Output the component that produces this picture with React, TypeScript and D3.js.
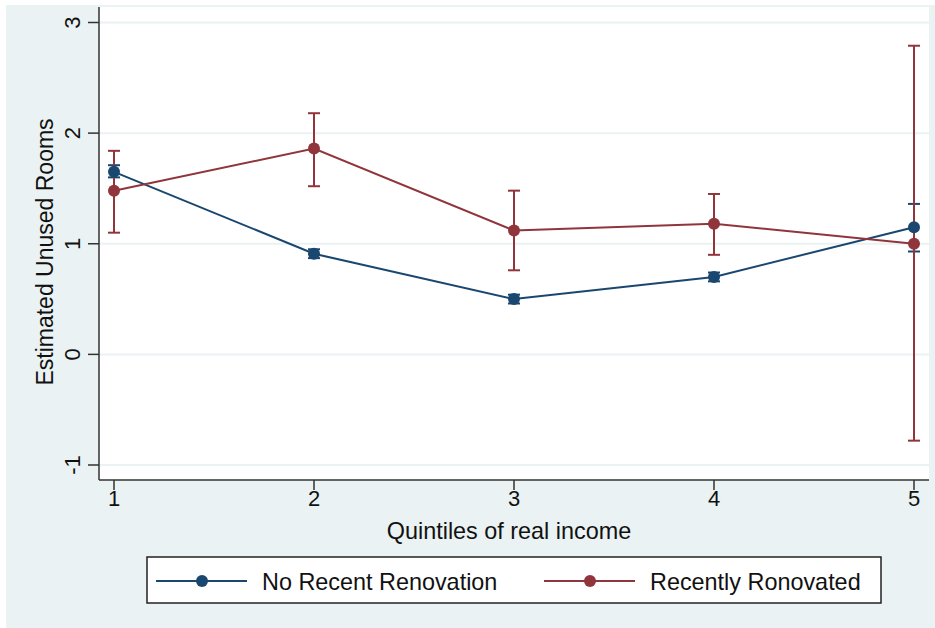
import React from "react";
import * as d3 from "d3";

const quintiles = [1, 2, 3, 4, 5];
const noRenoMean = [1.65, 0.91, 0.5, 0.7, 1.15];
const noRenoLow = [1.6, 0.87, 0.46, 0.66, 0.93];
const noRenoHigh = [1.71, 0.95, 0.54, 0.74, 1.36];
const renoMean = [1.48, 1.86, 1.12, 1.18, 1.0];
const renoLow = [1.1, 1.52, 0.76, 0.9, -0.78];
const renoHigh = [1.84, 2.18, 1.48, 1.45, 2.79];
const yTicks = [-1, 0, 1, 2, 3];
const xTicks = [1, 2, 3, 4, 5];
const legendLabels = ["No Recent Renovation", "Recently Ronovated"];

const NAVY = "#1a476f";
const MAROON = "#90353b";
const BG = "#eaf2f3";
const FONT = "'Liberation Sans', Arial, sans-serif";

export default function App() {
  const W = 935, H = 628;
  const plotL = 99, plotR = 929, plotT = 7, plotB = 480;
  const x = d3.scaleLinear().domain([1, 5]).range([114, 914]);
  const y = d3.scaleLinear().domain([-1, 3]).range([465, 22.5]);
  const line = d3.line<number>().x((_, i) => x(quintiles[i])).y((d) => y(d));

  const series = [
    { mean: noRenoMean, low: noRenoLow, high: noRenoHigh, color: NAVY },
    { mean: renoMean, low: renoLow, high: renoHigh, color: MAROON },
  ];
  const cap = 6;

  return (
    <div style={{ position: "absolute", left: 0, top: 0 }}>
      <svg width={W} height={H} style={{ display: "block" }}>
        <rect x={0} y={0} width={W} height={H} fill="#ffffff" />
        <rect x={6} y={5} width={W - 6} height={H - 5} fill={BG} />
        <rect x={plotL} y={plotT} width={plotR - plotL} height={plotB - plotT} fill="#ffffff" />
        {yTicks.map((t) => (
          <line key={"g" + t} x1={plotL} x2={plotR} y1={y(t)} y2={y(t)} stroke={BG} strokeWidth={2} />
        ))}
        {/* axes */}
        <line x1={plotL} x2={plotL} y1={plotT} y2={plotB} stroke="#333" strokeWidth={1.5} />
        <line x1={plotL} x2={plotR} y1={plotB} y2={plotB} stroke="#333" strokeWidth={1.5} />
        {yTicks.map((t) => (
          <g key={"yt" + t}>
            <line x1={plotL - 11} x2={plotL} y1={y(t)} y2={y(t)} stroke="#333" strokeWidth={1.5} />
            <text
              transform={`translate(${80},${y(t)}) rotate(-90)`}
              textAnchor="middle"
              fontFamily={FONT}
              fontSize={22}
              fill="#111"
            >
              {t}
            </text>
          </g>
        ))}
        {xTicks.map((t) => (
          <g key={"xt" + t}>
            <line x1={x(t)} x2={x(t)} y1={plotB} y2={plotB + 10} stroke="#333" strokeWidth={1.5} />
            <text x={x(t)} y={506} textAnchor="middle" fontFamily={FONT} fontSize={22} fill="#111">
              {t}
            </text>
          </g>
        ))}
        <text x={509} y={539} textAnchor="middle" fontFamily={FONT} fontSize={23.4} fill="#111">
          Quintiles of real income
        </text>
        <text
          transform={`translate(${53},${252}) rotate(-90)`}
          textAnchor="middle"
          fontFamily={FONT}
          fontSize={23}
          fill="#111"
        >
          Estimated Unused Rooms
        </text>
        {/* CIs */}
        {series.map((s, si) => (
          <g key={"ci" + si} stroke={s.color} strokeWidth={2} fill="none">
            {quintiles.map((q, i) => (
              <g key={i}>
                <line x1={x(q)} x2={x(q)} y1={y(s.low[i])} y2={y(s.high[i])} />
                <line x1={x(q) - cap} x2={x(q) + cap} y1={y(s.low[i])} y2={y(s.low[i])} />
                <line x1={x(q) - cap} x2={x(q) + cap} y1={y(s.high[i])} y2={y(s.high[i])} />
              </g>
            ))}
          </g>
        ))}
        {series.map((s, si) => (
          <g key={"ln" + si}>
            <path d={line(s.mean) || ""} fill="none" stroke={s.color} strokeWidth={2} />
            {quintiles.map((q, i) => (
              <circle key={i} cx={x(q)} cy={y(s.mean[i])} r={6} fill={s.color} />
            ))}
          </g>
        ))}
        {/* legend */}
        <rect x={147} y={557} width={734} height={46} fill="#ffffff" stroke="#222" strokeWidth={1.5} />
        {legendLabels.map((lab, i) => {
          const lx = i === 0 ? 156 : 544;
          const color = i === 0 ? NAVY : MAROON;
          return (
            <g key={lab}>
              <line x1={lx} x2={lx + 91} y1={581} y2={581} stroke={color} strokeWidth={2} />
              <circle cx={lx + 46} cy={581} r={6} fill={color} />
              <text x={lx + 106} y={590} fontFamily={FONT} fontSize={23.4} fill="#111">
                {lab}
              </text>
            </g>
          );
        })}
      </svg>
    </div>
  );
}
